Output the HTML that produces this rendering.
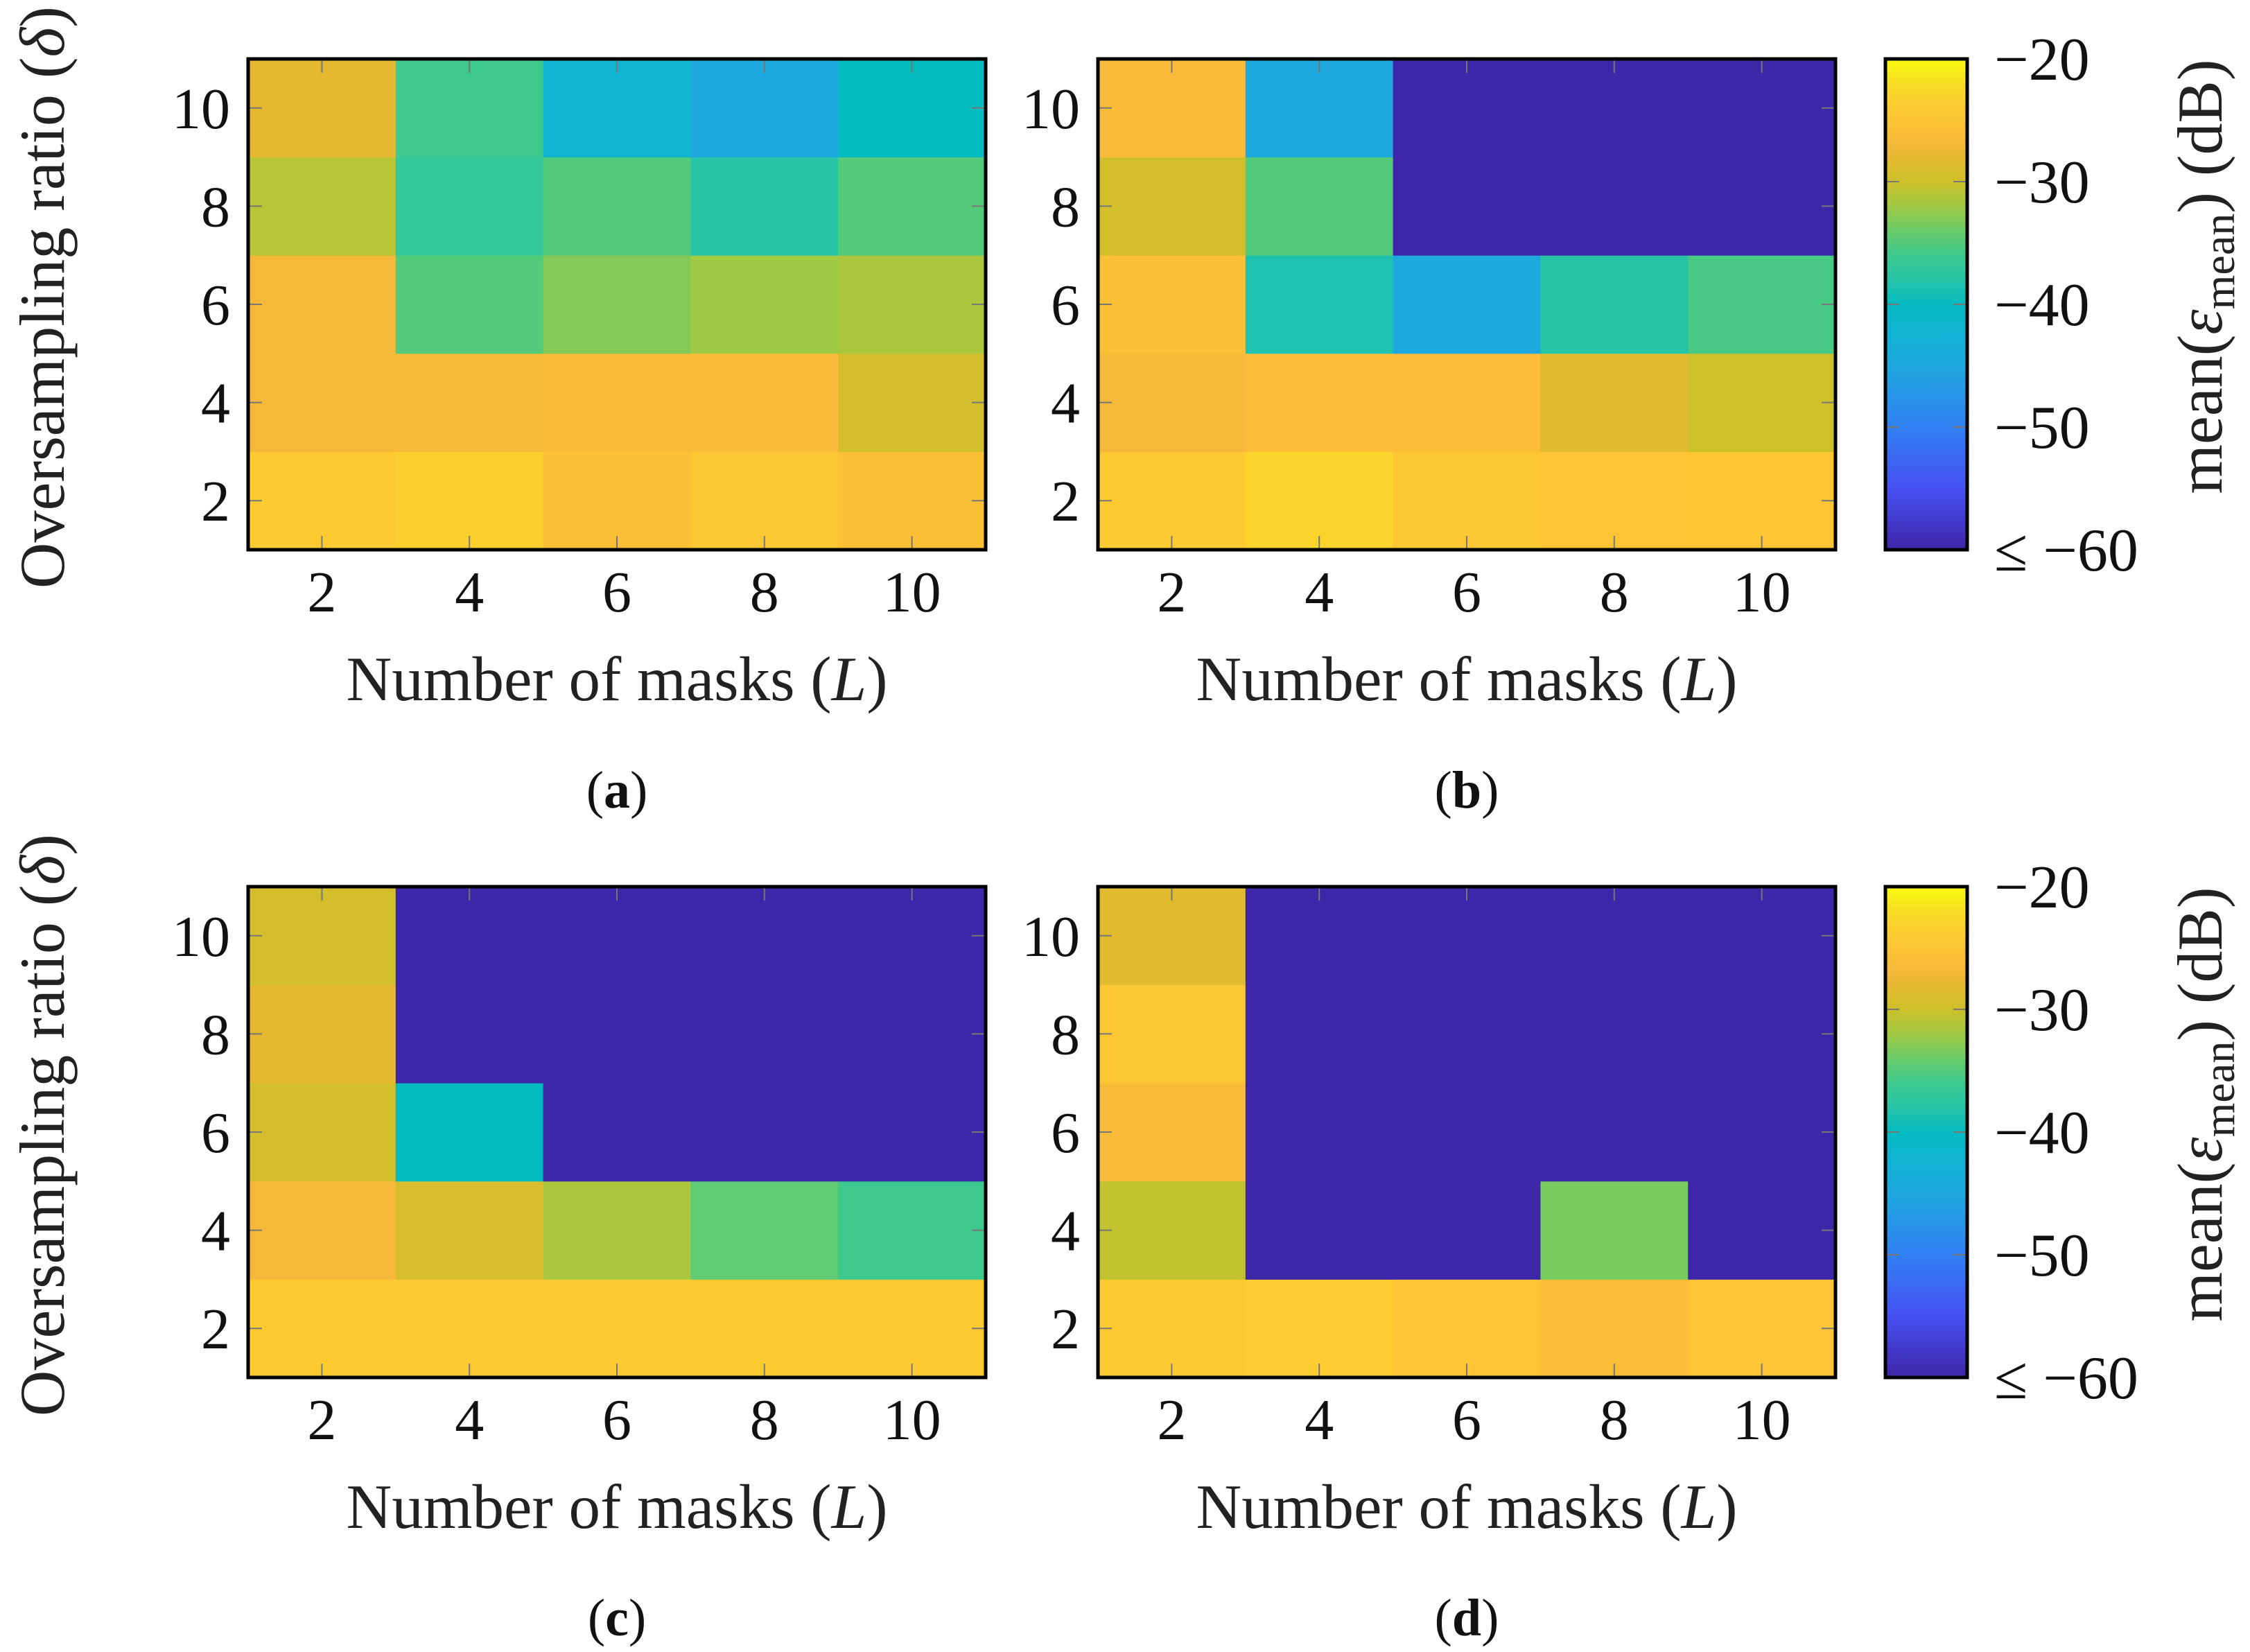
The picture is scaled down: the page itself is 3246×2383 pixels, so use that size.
<!DOCTYPE html>
<html><head><meta charset="utf-8"><style>
html,body{margin:0;padding:0;background:#fff;}
svg{display:block;font-family:"Liberation Serif",serif;}
</style></head><body>
<svg id="fig" width="3246" height="2383" viewBox="0 0 3246 2383" xmlns="http://www.w3.org/2000/svg">
<defs><linearGradient id="cmapGrad" x1="0" y1="1" x2="0" y2="0"></linearGradient></defs>
</svg>
<script>
// Data: rows are delta = 2,4,6,8,10 ; columns are L = 2,4,6,8,10 ; values in dB (<= -60 clipped)
const xCategories = [2,4,6,8,10];
const yCategories = [2,4,6,8,10];
const panelLabels = ['a','b','c','d'];
const valuesA = [
  [-24,-23.5,-25.5,-24.5,-25.5],
  [-27,-27,-26.5,-26.5,-29.5],
  [-27,-35,-33,-32,-31.5],
  [-31,-37,-35,-38,-35],
  [-28,-36,-42,-45,-40]
];
const valuesB = [
  [-24,-23,-24.5,-25,-24.8],
  [-27,-26,-26,-28.5,-30],
  [-25.5,-38.5,-45,-38,-35.5],
  [-29.5,-35,-60,-60,-60],
  [-26.5,-45,-60,-60,-60]
];
const valuesC = [
  [-24,-24,-24,-24,-24],
  [-27,-29,-31.5,-34.5,-36],
  [-29.5,-40,-60,-60,-60],
  [-28,-60,-60,-60,-60],
  [-29.5,-60,-60,-60,-60]
];
const valuesD = [
  [-24,-23.8,-25,-26,-25],
  [-30.5,-60,-60,-33.5,-60],
  [-26.5,-60,-60,-60,-60],
  [-24.5,-60,-60,-60,-60],
  [-28.5,-60,-60,-60,-60]
];
const colorbarTicks = [-20,-30,-40,-50,-60];
const colorbarTickLabels = ['\u221220','\u221230','\u221240','\u221250','\u2264 \u221260'];
const cmapVals = [-60,-55,-50,-45,-42,-40,-38,-36,-34,-32,-30,-28,-27,-26,-24,-22,-20];
const cmapCols = ['#3e26a8','#4650f2','#3080f2','#1ea8de','#0fb4d0','#03bac0','#28c4a8','#3dc98e','#6acb68','#a0c944','#cdc12a','#e6b831','#f5b83a','#fcbd38','#fdca32','#f7dc24','#f9fb0e'];

function hex(c){return [parseInt(c.slice(1,3),16),parseInt(c.slice(3,5),16),parseInt(c.slice(5,7),16)];}
function cmap(v){
  if(v<=cmapVals[0]) return cmapCols[0];
  for(let i=1;i<cmapVals.length;i++){
    if(v<=cmapVals[i]){
      const t=(v-cmapVals[i-1])/(cmapVals[i]-cmapVals[i-1]);
      const a=hex(cmapCols[i-1]),b=hex(cmapCols[i]);
      return 'rgb('+a.map((x,k)=>Math.round(x+(b[k]-x)*t)).join(',')+')';
    }
  }
  return cmapCols[cmapCols.length-1];
}
const NS='http://www.w3.org/2000/svg';
const svg=document.getElementById('fig');
function mk(tag,attrs,parent){const e=document.createElementNS(NS,tag);for(const k in attrs)e.setAttribute(k,attrs[k]);(parent||svg).appendChild(e);return e;}

const panels=[
  {vals:valuesA,x0:358,y0:85},
  {vals:valuesB,x0:1584,y0:85},
  {vals:valuesC,x0:358,y0:1279},
  {vals:valuesD,x0:1584,y0:1279}
];
const PW=1064,PH=708;
panels.forEach((p,pi)=>{
  const g=mk('g',{});
  
  
  const xs=v=>p.x0+(v-1)/10*PW;
  const ys=v=>p.y0+PH-(v-1)/10*PH;
  p.vals.forEach((row,ri)=>{
    row.forEach((val,ci)=>{
      const cx=xCategories[ci],cy=yCategories[ri];
      const r=mk('rect',{x:xs(cx-1),y:ys(cy+1),width:xs(cx+1)-xs(cx-1)+0.5,height:ys(cy-1)-ys(cy+1)+0.5,fill:cmap(val)},g);
      
      
    });
  });
  const tl=20;
  xCategories.forEach(v=>{
    mk('line',{x1:xs(v),x2:xs(v),y1:p.y0+PH,y2:p.y0+PH-tl,stroke:'#777','stroke-width':2},g);
    mk('line',{x1:xs(v),x2:xs(v),y1:p.y0,y2:p.y0+tl,stroke:'#777','stroke-width':2},g);
    const t=mk('text',{x:xs(v),y:882+(p.y0-85),'font-size':84,'text-anchor':'middle',fill:'#111'},g);
    t.textContent=v;
    
    
  });
  yCategories.forEach(v=>{
    mk('line',{x1:p.x0,x2:p.x0+tl,y1:ys(v),y2:ys(v),stroke:'#777','stroke-width':2},g);
    mk('line',{x1:p.x0+PW,x2:p.x0+PW-tl,y1:ys(v),y2:ys(v),stroke:'#777','stroke-width':2},g);
    const t=mk('text',{x:p.x0-26,y:ys(v)+29,'font-size':84,'text-anchor':'end',fill:'#111'},g);
    t.textContent=v;
    
    
  });
  const fr=mk('rect',{x:p.x0,y:p.y0,width:PW,height:PH,fill:'none',stroke:'#000','stroke-width':5},g);
  
  
  const xl=mk('text',{x:p.x0+PW/2,y:1010+(p.y0-85),'font-size':91,'text-anchor':'middle',fill:'#222'},g);
  xl.innerHTML='Number of masks (<tspan font-style="italic">L</tspan>)';
  
  
  const pl=mk('text',{x:p.x0+PW/2,y:1165+(p.y0-85),'font-size':76,'text-anchor':'middle',fill:'#111'},g);
  pl.innerHTML='(<tspan font-weight="bold">'+panelLabels[pi]+'</tspan>)';
  
  
  if(pi%2===0){
    const yt=mk('text',{x:0,y:0,'font-size':92,'text-anchor':'middle',fill:'#222',transform:'translate(92,'+(p.y0+PH/2-10)+') rotate(-90)'},g);
    yt.innerHTML='Oversampling ratio (<tspan font-style="italic">δ</tspan>)';
    
    
  }
});
// colorbar gradient
const grad=document.getElementById('cmapGrad');
cmapVals.forEach((v,i)=>{mk('stop',{offset:((v+60)/40),'stop-color':cmapCols[i]},grad);});
[85,1279].forEach((y0,k)=>{
  const g=mk('g',{});
  
  
  const cx0=2720,cw=118;
  const cs=v=>y0+PH-(v+60)/40*PH;
  mk('rect',{x:cx0,y:y0,width:cw,height:PH,fill:'url(#cmapGrad)'},g);
  colorbarTicks.forEach((v,i)=>{
    if(i>0&&i<colorbarTicks.length-1){
      mk('line',{x1:cx0,x2:cx0+20,y1:cs(v),y2:cs(v),stroke:'#777','stroke-width':2},g);
      mk('line',{x1:cx0+cw,x2:cx0+cw-20,y1:cs(v),y2:cs(v),stroke:'#777','stroke-width':2},g);
    }
    const t=mk('text',{x:2877,y:cs(v)+30,'font-size':88,fill:'#111'},g);
    t.textContent=colorbarTickLabels[i];
    
    
  });
  mk('rect',{x:cx0,y:y0,width:cw,height:PH,fill:'none',stroke:'#000','stroke-width':5},g);
  const ct=mk('text',{x:0,y:0,'font-size':92,'text-anchor':'middle',fill:'#222',transform:'translate(3205,'+(y0+PH/2-40)+') rotate(-90)'},g);
  ct.innerHTML='mean(<tspan font-style="italic">ε</tspan><tspan font-size="64" dy="18">mean</tspan><tspan dy="-18">) (dB)</tspan>';
  
  
});
</script>
</body></html>
